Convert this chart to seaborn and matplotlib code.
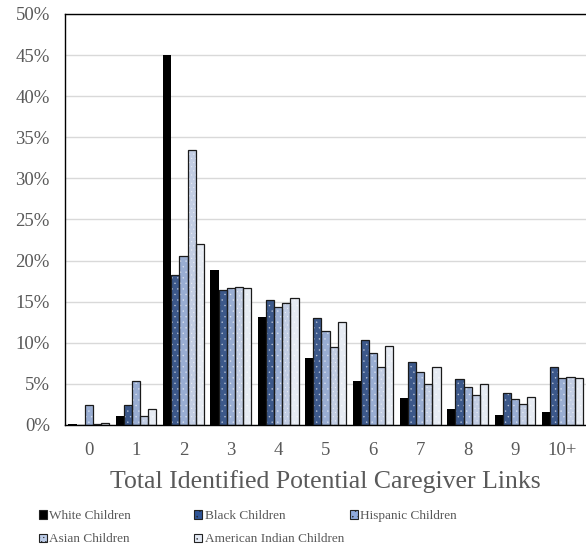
import matplotlib

matplotlib.use("Agg")
import matplotlib.pyplot as plt
import matplotlib.patches as mpatches
import pandas as pd
import seaborn as sns
from matplotlib.ticker import PercentFormatter

LINK_COUNTS = ["0", "1", "2", "3", "4", "5", "6", "7", "8", "9", "10+"]
GROUPS = [
    "White Children",
    "Black Children",
    "Hispanic Children",
    "Asian Children",
    "American Indian Children",
]

# share of children (%) by number of identified potential caregiver links
white = [0.1, 1.1, 45.0, 18.9, 13.1, 8.2, 5.3, 3.3, 2.0, 1.2, 1.6]
black = [0.0, 2.4, 18.2, 16.4, 15.2, 13.0, 10.3, 7.7, 5.6, 3.9, 7.1]
hispanic = [2.4, 5.4, 20.6, 16.7, 14.4, 11.4, 8.8, 6.5, 4.6, 3.1, 5.7]
asian = [0.1, 1.1, 33.5, 16.8, 14.8, 9.5, 7.0, 5.0, 3.6, 2.6, 5.8]
american_indian = [0.2, 2.0, 22.0, 16.7, 15.4, 12.5, 9.6, 7.1, 5.0, 3.4, 5.7]

COLORS = ["#000000", "#2F5597", "#8FAADC", "#BCCCE8", "#E4EAF5"]
HATCHES = ["", "...", "...", "....", "..."]
TEXT_GRAY = "#595959"

series = [white, black, hispanic, asian, american_indian]
df = pd.DataFrame(
    [
        {"links": link, "group": group, "pct": value / 100}
        for group, values in zip(GROUPS, series)
        for link, value in zip(LINK_COUNTS, values)
    ]
)

sns.set_style("white")
plt.rcParams["font.family"] = ["Liberation Serif", "DejaVu Serif"]
plt.rcParams["hatch.linewidth"] = 0.3

fig = plt.figure(figsize=(5.86, 5.48), dpi=100)
ax = fig.add_axes([0.111, 0.2245, 0.889, 0.75])

sns.barplot(
    data=df,
    x="links",
    y="pct",
    hue="group",
    hue_order=GROUPS,
    order=LINK_COUNTS,
    palette=COLORS,
    width=0.86,
    edgecolor=(1, 1, 1, 0.55),
    linewidth=0,
    legend=False,
    ax=ax,
    zorder=2,
)

# dark outlines drawn over the white-dotted fills
for container, hatch in zip(ax.containers, HATCHES):
    for bar in container:
        bar.set_hatch(hatch)
        if hatch:
            ax.add_patch(
                mpatches.Rectangle(
                    bar.get_xy(),
                    bar.get_width(),
                    bar.get_height(),
                    fill=False,
                    edgecolor="#1a1a1a",
                    linewidth=0.9,
                    zorder=3,
                )
            )

ax.set_ylim(0, 0.5)
ax.set_xlim(-0.5, len(LINK_COUNTS) - 0.5)
ax.set_yticks([i * 0.05 for i in range(11)])
ax.yaxis.set_major_formatter(PercentFormatter(1.0, decimals=0))
ax.grid(axis="y", color="#D9D9D9", linewidth=1)
ax.set_axisbelow(True)
ax.tick_params(axis="both", length=0, labelsize=13.5, colors=TEXT_GRAY)
ax.tick_params(axis="x", pad=12)
ax.tick_params(axis="y", pad=11)
ax.set_ylabel("")
ax.set_xlabel("Total Identified Potential Caregiver Links", fontsize=18.5,
              color=TEXT_GRAY, labelpad=8)

for side in ["left", "top", "bottom"]:
    ax.spines[side].set_visible(True)
    ax.spines[side].set_color("black")
    ax.spines[side].set_linewidth(1)
ax.spines["right"].set_visible(False)

handles = [
    mpatches.Patch(facecolor=color, edgecolor=(1, 1, 1, 0.55) if hatch else color,
                   hatch=hatch, linewidth=0)
    for color, hatch in zip(COLORS, HATCHES)
]

columns = [([0, 3], 0.066), ([1, 4], 0.331), ([2], 0.597)]
for idx, x in columns:
    leg = fig.legend(
        [handles[i] for i in idx],
        [GROUPS[i] for i in idx],
        loc="upper left",
        bbox_to_anchor=(x, 0.069),
        bbox_transform=fig.transFigure,
        frameon=False,
        fontsize=9.5,
        handlelength=0.6,
        handleheight=0.6,
        handletextpad=0.2,
        labelspacing=0.85,
        borderaxespad=0,
        borderpad=0,
    )
    for text in leg.get_texts():
        text.set_color(TEXT_GRAY)
    for patch in leg.get_patches():
        patch.set_edgecolor("#222222")
        patch.set_linewidth(0.8)

fig.savefig("out.png", dpi=100)
